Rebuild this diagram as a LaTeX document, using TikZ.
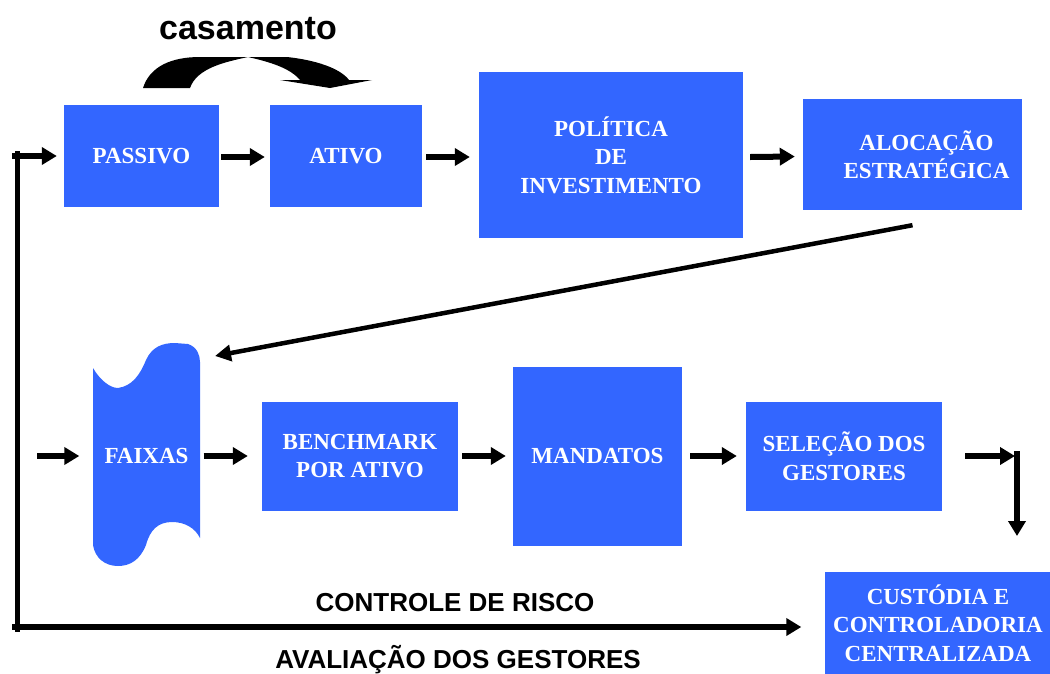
\documentclass[tikz,border=0pt]{standalone}
\usepackage{fontspec}
\setmainfont{Liberation Serif}
\newfontfamily\lsans{Liberation Sans}
\usetikzlibrary{arrows.meta}
\definecolor{myblue}{RGB}{51,102,255}
\begin{document}
\begin{tikzpicture}[x=1pt,y=-1pt,
  box/.style={fill=myblue,text=white,font=\bfseries\fontsize{23}{28.5}\selectfont,align=center,inner sep=0pt},
  arr/.style={line width=6pt,-{Triangle[length=15pt,width=17pt]}},
  diagarr/.style={line width=4.5pt,-{Triangle[length=16pt,width=16pt]}},
  loopline/.style={line width=5pt},
  lbl/.style={font=\lsans\bfseries\fontsize{26}{30}\selectfont}]
\useasboundingbox (0,0) rectangle (1050,673);

% top row
\node[box,minimum width=155pt,minimum height=102pt] (passivo) at (141.5,156) {PASSIVO};
\node[box,minimum width=152pt,minimum height=102pt] (ativo) at (346,156) {ATIVO};
\node[box,minimum width=264pt,minimum height=166pt] (politica) at (611,155) {POLÍTICA\\DE\\INVESTIMENTO};
\node[box,minimum width=219pt,minimum height=111pt] (aloc) at (912.5,154.5) {\hspace*{28pt}ALOCAÇÃO\\\hspace*{28pt}ESTRATÉGICA};

% casamento
\node[font=\lsans\bfseries\fontsize{34}{38}\selectfont] (casam) at (248,29) {casamento};
\fill (143,88) .. controls (150,66) and (172,57) .. (200,57) -- (287,57)
  .. controls (315,60) and (340,68) .. (349,80) -- (372,80) -- (330,88) -- (280,80) -- (300,80)
  .. controls (290,68) and (270,62) .. (248,57)
  .. controls (225,62) and (197,68) .. (190,88) -- cycle;

% bottom row
\fill[myblue] (93,368) .. controls (100,380) and (110,388) .. (118,388)
  .. controls (132,386) and (140,375) .. (146,360)
  .. controls (152,347) and (162,343) .. (175,343) -- (188,344)
  .. controls (197,347) and (200,355) .. (200,362) -- (200,538)
  .. controls (195,528) and (185,522) .. (172,522)
  .. controls (158,522) and (150,530) .. (146,545)
  .. controls (140,560) and (130,566) .. (118,566)
  .. controls (105,566) and (95,558) .. (93,545) -- cycle;
\node[box,fill=none,minimum width=108pt,minimum height=222pt] (faixas) at (146.5,456) {FAIXAS};
\node[box,minimum width=196pt,minimum height=109pt] (bench) at (360,456) {BENCHMARK\\POR ATIVO};
\node[box,minimum width=169pt,minimum height=179pt] (mand) at (597.5,456) {MANDATOS};
\node[box,minimum width=196pt,minimum height=109pt] (sel) at (844,456) {SELEÇÃO DOS\\GESTORES};
\node[box,minimum width=227pt,minimum height=103pt] (cust) at (938,623) {CUSTÓDIA E\\CONTROLADORIA\\CENTRALIZADA};

% labels
\node[lbl] (risco) at (455,603) {CONTROLE DE RISCO};
\node[lbl] (aval) at (458,660) {AVALIAÇÃO DOS GESTORES};

% connectors top row
\draw[arr] ([xshift=2pt,yshift=-1pt]passivo.east) -- ([xshift=-5pt,yshift=-1pt]ativo.west);
\draw[arr] ([xshift=4pt,yshift=-1pt]ativo.east) -- ([xshift=-9pt,yshift=-2pt]politica.west);
\draw[arr] ([xshift=7pt,yshift=-2pt]politica.east) -- ([xshift=-8pt,yshift=-2pt]aloc.west);

% diagonal
\coordinate (diagEnd) at (215,356);
\draw[diagarr] ([yshift=-15pt]aloc.south) -- (diagEnd);

% connectors bottom row
\coordinate (inL) at (37,456);
\draw[arr] (inL) -- ([xshift=-13pt]faixas.west |- inL);
\draw[arr] ([xshift=3pt]faixas.east) -- ([xshift=-14pt]bench.west);
\draw[arr] ([xshift=4pt]bench.east) -- ([xshift=-7pt]mand.west);
\draw[arr] ([xshift=8pt]mand.east) -- ([xshift=-9pt]sel.west);

% elbow to custodia
\coordinate (elb) at (1017,456);
\coordinate (elbTop) at (1017,451);
\coordinate (custIn) at (1017,536);
\draw[arr] ([xshift=23pt]sel.east) -- ([xshift=-2pt]elb);
\draw[arr] (elbTop) -- (custIn);

% feedback loop
\coordinate (lt) at (12,156);
\coordinate (lb) at (12,627);
\coordinate (vt) at (17,151);
\coordinate (vb) at (17,632);
\draw[loopline] (vt) -- (vb);
\draw[arr,shorten >=7pt] (lt) -- (lt -| passivo.west);
\draw[arr,shorten >=23pt] (lb) -- (lb -| cust.west);
\end{tikzpicture}
\end{document}
